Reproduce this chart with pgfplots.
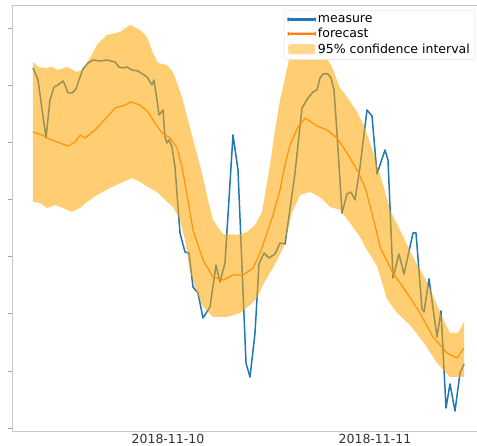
\documentclass[border=0pt]{standalone}
\usepackage{pgfplots}
\pgfplotsset{compat=1.18}
\usepackage{fontspec}
\setmainfont{DejaVu Sans}
\definecolor{mblue}{HTML}{1F77B4}
\definecolor{morange}{HTML}{FF7F0E}
\definecolor{band}{HTML}{FFA500}
\definecolor{bandlight}{HTML}{FFB733}
\pgfplotsset{
  bluelegend/.style={legend image code/.code={\fill[fill=mblue!85] (0pt,-0.6pt) rectangle (27pt,0.6pt);}},
  orangelegend/.style={legend image code/.code={\fill[fill=morange!75] (0pt,-0.5pt) rectangle (27pt,0.5pt);}},
  arealegend/.style={legend image code/.code={\fill[fill=bandlight] (0pt,-5pt) rectangle (27pt,5pt);}},
}
\begin{document}
\begin{tikzpicture}
\useasboundingbox (0,0) rectangle (477pt,446pt);
\begin{axis}[
  at={(12pt,15pt)}, anchor=south west,
  scale only axis, width=469pt, height=426pt,
  xmin=12, xmax=481, ymin=5, ymax=431, y dir=reverse,
  axis line style={gray!45},
  xtick={168,375}, xticklabels={2018-11-10,2018-11-11},
  ytick={28,85.1,142.3,199.4,256.6,313.7,370.9,428},
  yticklabels={},
  tick align=outside, tick pos=left,
  major tick length=4pt,
  x tick style={draw=none},
  tick style={gray!70,line width=0.6pt},
  font=\fontsize{12.5}{15}\selectfont,
  xticklabel style={text=black!80, yshift=4.5pt},
  clip=true,
  legend cell align=left,
  legend style={at={(axis description cs:1,1)}, anchor=north east, xshift=-6pt, yshift=-5pt,
    draw=gray!25, fill=white, rounded corners=2pt,
    font=\fontsize{12.5}{14}\selectfont, row sep=0.5pt, inner sep=3pt},
]
\addplot[mblue, line width=1.5pt, line join=round, bluelegend] coordinates {
(33,68) (38,80) (46,138) (50,100) (54,87) (58,85) (63,81) (65,85) (68,93) (72,93)
(76,89) (79,80) (83,69) (88,63) (93,60) (100,61) (107,60) (115,62) (119,67) (123,68)
(127,67) (132,70) (138,71) (147,77) (152,85) (154,80) (157,100) (159,115) (163,110)
(165,137) (167,143) (169,140) (172,147) (175,167) (180,233) (185,252) (189,253)
(193,287) (198,293) (203,318) (210,307) (216,265) (220,282) (225,263) (233,135)
(238,170) (246,363) (250,377) (255,333) (259,264) (264,253) (269,258) (275,254)
(280,243) (285,244) (289,216) (295,173) (302,108) (308,98) (313,92) (317,90)
(320,78) (323,74) (328,74) (331,78) (334,90) (337,133) (342,213) (347,194)
(351,192) (355,200) (360,167) (367,110) (372,116) (377,174) (385,150) (388,160)
(393,278) (399,254) (404,274) (413,233) (416,233) (422,309) (424,312) (429,279)
(437,337) (441,311) (446,408) (450,384) (455,411) (460,373) (464,364)
};
\addlegendentry{measure}
\addplot[morange, line width=1.2pt, line join=round, orangelegend] coordinates {
(33,132) (42,135) (47,138) (57,142) (68,146) (75,142) (80,135) (85,138) (95,130)
(107,117) (115,108) (125,105) (131,102) (140,105) (148,112) (155,123) (162,133)
(170,138) (177,148) (182,167) (187,195) (193,230) (203,260) (213,277) (223,280)
(233,275) (243,275) (253,268) (260,253) (267,233) (273,215) (280,190) (285,165)
(290,145) (298,127) (305,118) (317,126) (327,130) (337,138) (347,153) (357,170)
(365,187) (373,217) (380,247) (393,273) (407,293) (420,313) (433,337) (447,353)
(457,358) (464,348)
};
\addlegendentry{forecast}
\addplot[draw=none, fill=band, fill opacity=0.55, arealegend] coordinates {
(33,62) (38,67) (45,68) (52,67) (58,70) (67,67) (77,72) (82,70) (90,58) (97,45)
(107,35) (120,32) (130,25) (140,30) (147,37) (153,53) (158,63) (167,65) (173,72)
(182,97) (188,120) (195,147) (202,173) (208,200) (213,220) (223,234) (237,235)
(247,232) (255,225) (262,212) (270,165) (275,130) (280,100) (285,78) (290,55)
(295,40) (305,35) (315,38) (325,55) (332,67) (340,88) (347,97) (357,112) (365,128)
(374,155) (384,188) (390,210) (400,230) (413,257) (427,282) (437,305) (445,323)
(450,333) (458,333) (464,322)
(464,377) (450,377) (437,363) (424,343) (410,325) (397,313) (387,299) (377,266)
(367,250) (360,237) (350,223) (340,210) (330,207) (320,197) (310,192) (300,195)
(292,213) (284,246) (274,266) (264,283) (257,298) (250,305) (240,313) (227,317)
(213,317) (203,307) (197,293) (190,272) (185,240) (180,220) (173,207) (165,200)
(157,192) (148,187) (140,182) (132,178) (123,182) (110,188) (97,195) (87,202)
(80,208) (72,212) (63,208) (55,205) (47,208) (40,203) (33,202)
} -- cycle;
\addlegendentry{95\% confidence interval}
\end{axis}
\end{tikzpicture}
\end{document}
